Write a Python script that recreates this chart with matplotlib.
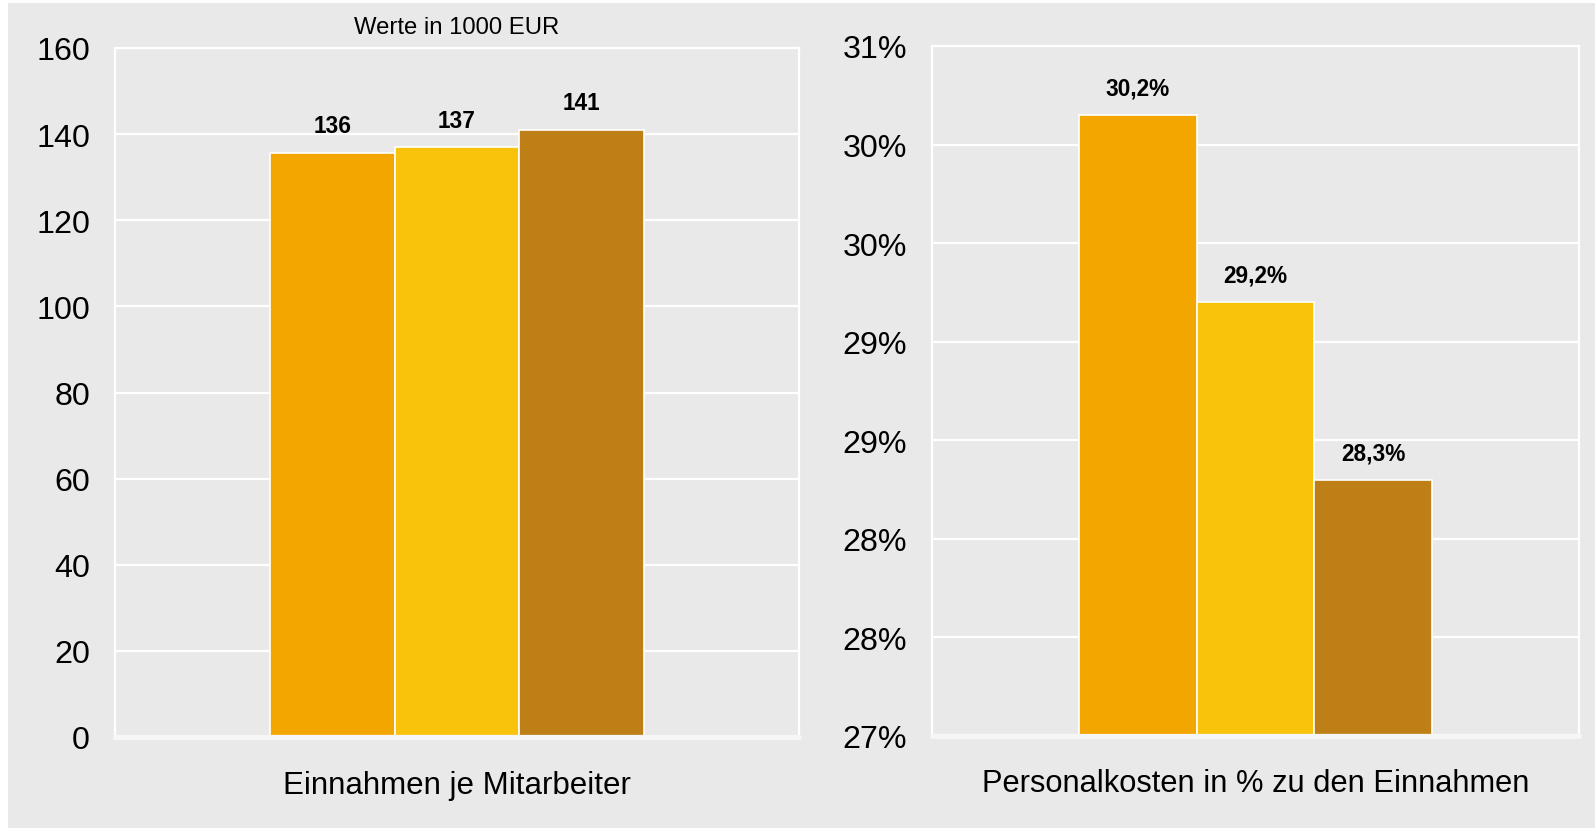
import math
from decimal import Decimal, ROUND_HALF_UP

import matplotlib
matplotlib.use("Agg")
import matplotlib.pyplot as plt
from matplotlib.patches import Rectangle
from matplotlib.ticker import FuncFormatter

plt.rcParams['font.family'] = ['Liberation Sans', 'DejaVu Sans']

# data
colors = ['#F3A600', '#F9C30C', '#BE8016']
einnahmen = [135.6, 136.9, 141.0]
personalkosten = [30.15, 29.2, 28.3]
left_label = 'Einnahmen je Mitarbeiter'
right_label = 'Personalkosten in % zu den Einnahmen'
unit_note = 'Werte in 1000 EUR'

BG = '#E8E9E8'
W, H = 1595, 829

fig = plt.figure(figsize=(W / 100, H / 100), dpi=100)
fig.patch.set_facecolor('white')
fig.patches.append(Rectangle((8 / W, 0), 1 - 8 / W, 1 - 4 / H, transform=fig.transFigure,
                             facecolor=BG, edgecolor='none', zorder=-10))


def make_axes(px_left, px_right, px_top, px_bottom):
    return fig.add_axes([px_left / W, 1 - px_bottom / H,
                         (px_right - px_left) / W, (px_bottom - px_top) / H])


def style(ax):
    ax.set_facecolor(BG)
    ax.set_xlim(-1.75, 3.75)
    ax.set_xticks([])
    ax.grid(axis='y', color='white', linewidth=1.6, zorder=1)
    ax.set_axisbelow(True)
    for s in ['left', 'right', 'top']:
        ax.spines[s].set_color('white')
        ax.spines[s].set_linewidth(1.6)
    ax.spines['bottom'].set_visible(False)
    ax.axhline(ax.get_ylim()[0], color='#F6F6F6', linewidth=3.8,
               solid_capstyle='round', clip_on=False, zorder=4)
    ax.tick_params(axis='y', length=0, pad=18, labelsize=23.2, labelcolor='black')


def round_half_up(v, q):
    return str(Decimal(str(v)).quantize(Decimal(q), ROUND_HALF_UP))


# left panel
ax1 = make_axes(115, 799, 49, 738)
ax1.bar(range(3), einnahmen, width=1.0, color=colors, edgecolor='white',
        linewidth=1.2, zorder=3)
ax1.set_ylim(0, 160)
ax1.set_yticks(range(0, 161, 20))
style(ax1)
for i, v in enumerate(einnahmen):
    ax1.annotate(round_half_up(v, '1'), (i, v), xytext=(0, 19.5),
                 textcoords='offset points', ha='center', va='center',
                 fontsize=16.3, fontweight='bold')
ax1.text(0.5, -0.07, left_label, transform=ax1.transAxes, ha='center',
         va='center', fontsize=22.5)
ax1.text(0.5, 1 + 20.5 / 689, unit_note, transform=ax1.transAxes, ha='center',
         va='center', fontsize=17.2)

# right panel
ax2 = make_axes(932, 1579, 47, 737)
ax2.bar(range(3), personalkosten, width=1.0, color=colors, edgecolor='white',
        linewidth=1.2, zorder=3)
ax2.set_ylim(27, 30.5)
ax2.set_yticks([27 + 0.5 * k for k in range(8)])
ax2.yaxis.set_major_formatter(FuncFormatter(lambda v, p: f"{math.floor(v + 0.5 + 1e-9)}%"))
style(ax2)
for i, v in enumerate(personalkosten):
    ax2.annotate(round_half_up(v, '0.1').replace('.', ',') + '%', (i, v),
                 xytext=(0, 19.5), textcoords='offset points', ha='center',
                 va='center', fontsize=16.3, fontweight='bold')
ax2.text(0.5, -0.068, right_label, transform=ax2.transAxes, ha='center',
         va='center', fontsize=22.2)

fig.savefig('out.png', dpi=100, facecolor=fig.get_facecolor())
